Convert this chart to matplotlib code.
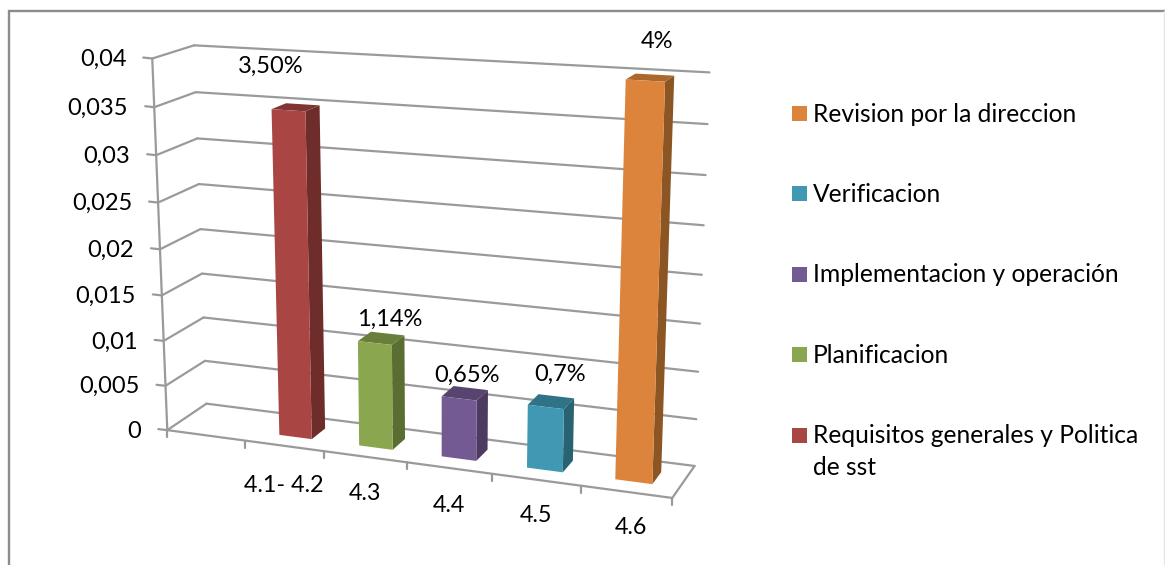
import numpy as np
import matplotlib
matplotlib.use('Agg')
import matplotlib.pyplot as plt
from matplotlib.patches import Polygon, Rectangle

plt.rcParams['font.family'] = ['Lato', 'DejaVu Sans']

# chart data
categories = ['4.1- 4.2', '4.3', '4.4', '4.5', '4.6']
values = [0.035, 0.0114, 0.0065, 0.0067, 0.04]
value_labels = ['3,50%', '1,14%', '0,65%', '0,7%', '4%']
y_ticks = [0, 0.005, 0.01, 0.015, 0.02, 0.025, 0.03, 0.035, 0.04]
y_tick_labels = ['0', '0,005', '0,01', '0,015', '0,02', '0,025', '0,03', '0,035', '0,04']
legend_names = ['Revision por la direccion', 'Verificacion', 'Implementacion y operación',
                'Planificacion', 'Requisitos generales y Politica\nde sst']

# front, side, top colours of each bar
front_colors = ['#A94644', '#8AA64E', '#745A92', '#4198B2', '#DC843C']
side_colors = ['#6E2C2A', '#5B6E32', '#4C3A61', '#296373', '#8C5524']
top_colors = ['#7F3533', '#687E3A', '#574570', '#307387', '#AC672F']

YMAX = 0.04
N_SLOTS = 6
BAR_W = 0.41
DEPTH0, DEPTH1 = 0.31, 0.69

# the 3d box as seen in the picture: (slot, value, depth) -> pixel
calib_3d = [(0, 0.04, 0), (0, 0.035, 0), (0, 0.03, 0), (0, 0.025, 0), (0, 0.02, 0), (0, 0.01, 0),
            (0, 0.005, 0), (0, 0, 0),
            (0, 0.04, 1), (0, 0.035, 1), (0, 0.03, 1), (0, 0.025, 1), (0, 0.02, 1), (0, 0.01, 1),
            (0, 0.005, 1), (0, 0, 1),
            (6, 0.04, 1), (6, 0.035, 1), (6, 0.015, 1), (6, 0.01, 1), (6, 0.005, 1), (6, 0, 1),
            (1, 0, 0), (2, 0, 0), (3, 0, 0), (4, 0, 0), (5, 0, 0), (6, 0, 0)]
calib_px = [(152.3, 58.3), (154.3, 106.7), (156.7, 154.3), (158.3, 201.7), (160.7, 249), (164.3, 340),
            (166, 385.7), (167.3, 430),
            (193.3, 45.7), (195, 92.7), (196.7, 139), (199, 184.3), (200.7, 229.3), (203.3, 317.7),
            (205, 360.7), (206.7, 403),
            (709.3, 73.3), (707.3, 124.3), (701.3, 323.3), (699.3, 371), (697.3, 418.7), (693.3, 465),
            (244.3, 441.7), (324, 452.7), (406.7, 463.3), (491.7, 474), (580, 486), (671.7, 497.7)]


def fit_camera(pts3d, pts2d):
    rows = []
    rhs = []
    for (u, v, w), (x, y) in zip(pts3d, pts2d):
        u, v = u / N_SLOTS, v / YMAX
        rows.append([u, v, w, 1, 0, 0, 0, 0, -x * u, -x * v, -x * w])
        rows.append([0, 0, 0, 0, u, v, w, 1, -y * u, -y * v, -y * w])
        rhs += [x, y]
    sol = np.linalg.lstsq(np.array(rows), np.array(rhs), rcond=None)[0]
    return np.append(sol, 1).reshape(3, 4)


cam = fit_camera(calib_3d, calib_px)


def project(u, v, w):
    p = cam @ np.array([u / N_SLOTS, v / YMAX, w, 1])
    return p[0] / p[2], p[1] / p[2]


fig = plt.figure(figsize=(11.65, 5.65), dpi=100)
ax = fig.add_axes([0, 0, 1, 1])
ax.set_xlim(0, 1165)
ax.set_ylim(565, 0)
ax.axis('off')

# outer border, only left and top show up clearly
ax.plot([9, 9, 1165], [565, 11, 11], color='#8C8C8C', lw=1.7, solid_joinstyle='miter')
ax.plot([1164, 1164], [11, 565], color='#E6E6E6', lw=1)

grid = dict(color='#9A9A9A', lw=1.6, solid_capstyle='round', zorder=1)


def seg(a, b):
    ax.plot([a[0], b[0]], [a[1], b[1]], **grid)


# walls
for t, lab in zip(y_ticks, y_tick_labels):
    front = project(0, t, 0)
    back = project(0, t, 1)
    right = project(N_SLOTS, t, 1)
    seg(front, back)
    seg(back, right)
    seg((front[0] - 9, front[1] - 1), front)
    ax.text(front[0] - 26, front[1] + 1, lab, ha='right', va='center', fontsize=17, color='black')

# floor and axis
seg(project(0, 0, 0), project(0, YMAX, 0))
seg(project(0, 0, 0), project(N_SLOTS, 0, 0))
seg(project(N_SLOTS, 0, 0), project(N_SLOTS, 0, 1))
for i in range(N_SLOTS + 1):
    x, y = project(i, 0, 0)
    seg((x, y), (x, y + 7))

# bars
for i, val in enumerate(values):
    u0 = i + 1.5 - BAR_W / 2
    u1 = u0 + BAR_W
    fl_b, fr_b = project(u0, 0, DEPTH0), project(u1, 0, DEPTH0)
    bl_t, br_t = project(u0, val, DEPTH1), project(u1, val, DEPTH1)
    fl_t, fr_t = project(u0, val, DEPTH0), project(u1, val, DEPTH0)
    br_b = project(u1, 0, DEPTH1)
    ax.add_patch(Polygon([fr_b, br_b, br_t, fr_t], fc=side_colors[i], ec='none', zorder=2))
    ax.add_patch(Polygon([fl_t, fr_t, br_t, bl_t], fc=top_colors[i], ec='none', zorder=2))
    ax.add_patch(Polygon([fl_b, fr_b, fr_t, fl_t], fc=front_colors[i], ec='none', zorder=3))

# labels were placed by hand in the original
label_xy = [(271, 66), (390, 319), (467, 375), (560, 374), (657, 41)]
for (x, y), txt in zip(label_xy, value_labels):
    ax.text(x, y, txt, ha='center', va='center', fontsize=17, color='black', zorder=5)

cat_xy = [(284, 486), (365, 494), (449, 505), (536, 515), (631, 528)]
for (x, y), txt in zip(cat_xy, categories):
    ax.text(x, y, txt, ha='center', va='center', fontsize=16.8, color='black', zorder=5)

# legend
legend_y = [113.5, 193.5, 274.5, 354.5, 435.5]
legend_text_y = [103, 183, 263, 344, 424]
legend_colors = front_colors[::-1]
for y, ty, name, c in zip(legend_y, legend_text_y, legend_names, legend_colors):
    ax.add_patch(Rectangle((792, y - 7.5), 15, 15, fc=c, ec='none'))
    ax.text(813, ty, name, ha='left', va='top', fontsize=17.7, color='black', linespacing=1.45)

fig.savefig('out.png', dpi=100)
